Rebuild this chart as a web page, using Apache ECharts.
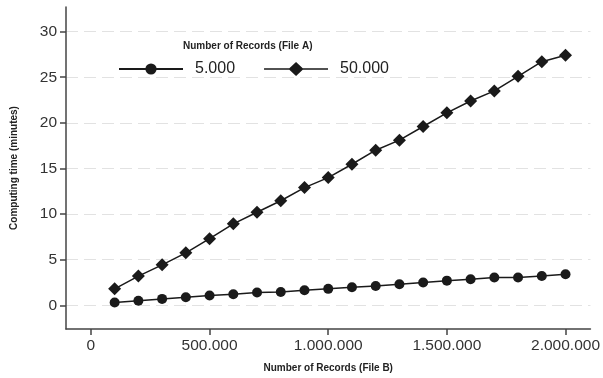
<!DOCTYPE html>
<html>
<head>
<meta charset="utf-8">
<script src="https://cdn.jsdelivr.net/npm/echarts@6/dist/echarts.min.js"></script>
<style>html,body{margin:0;padding:0;background:#fff}#c{width:603px;height:378px}</style>
</head>
<body>
<div id="c"></div>
<script>
var recordsB = [100000,200000,300000,400000,500000,600000,700000,800000,900000,1000000,1100000,1200000,1300000,1400000,1500000,1600000,1700000,1800000,1900000,2000000];
var time5000 = [0.3,0.5,0.7,0.88,1.07,1.2,1.4,1.46,1.65,1.8,1.98,2.12,2.3,2.5,2.7,2.86,3.04,3.04,3.22,3.4];
var time50000 = [1.8,3.2,4.43,5.75,7.3,8.93,10.2,11.46,12.9,14.0,15.46,17.0,18.1,19.6,21.1,22.4,23.5,25.1,26.7,27.4];
var xTicks = [0,500000,1000000,1500000,2000000];
var yTicks = [0,5,10,15,20,25,30];
var seriesNames = ['5.000','50.000'];
var legendTitle = 'Number of Records (File A)';
var xName = 'Number of Records (File B)';
var yName = 'Computing time (minutes)';

function pairs(xs, ys){ return xs.map(function(x,i){ return [x, ys[i]]; }); }
function fmtThousands(v){ return String(Math.round(v)).replace(/\B(?=(\d{3})+(?!\d))/g,'.'); }

var FONT = 'Liberation Sans, Arial, Helvetica, sans-serif';
var DIAMOND_LEGEND_ICON = 'path://M0 6.2H64V7.8H0Z M32 0L39.5 7L32 14L24.5 7Z';
var chart = echarts.init(document.getElementById('c'), null, {renderer:'canvas'});
chart.setOption({
  animation:false,
  backgroundColor:'#fff',
  textStyle:{fontFamily:FONT},
  title:{text:legendTitle, left:183, top:41, padding:0,
    textStyle:{fontSize:10, fontWeight:'bold', color:'#222', fontFamily:FONT}},
  legend:{
    data:[{name:seriesNames[0]}, {name:seriesNames[1], icon:DIAMOND_LEGEND_ICON}],
    left:118, top:61, padding:0,
    itemWidth:64, itemHeight:14, itemGap:29,
    textStyle:{fontSize:16, color:'#222', fontFamily:FONT, padding:[0,0,0,7]}
  },
  grid:{left:66, right:11, top:7, bottom:49, containLabel:false},
  xAxis:{
    type:'value', min:-105000, max:2105000,
    name:xName, nameLocation:'middle', nameGap:34,
    nameTextStyle:{fontSize:10, fontWeight:'bold', color:'#222', fontFamily:FONT},
    axisLine:{show:true, onZero:false, lineStyle:{color:'#444', width:1.5}},
    axisTick:{show:true, length:6, customValues:xTicks, lineStyle:{color:'#444', width:1.5}},
    axisLabel:{customValues:xTicks, margin:9, fontSize:15.5, color:'#333', fontFamily:FONT,
      formatter:function(v){ return fmtThousands(v); }},
    splitLine:{show:false}
  },
  yAxis:{
    type:'value', min:-2.6, max:32.7,
    name:yName, nameLocation:'middle', nameGap:47,
    nameTextStyle:{fontSize:10, fontWeight:'bold', color:'#222', fontFamily:FONT},
    axisLine:{show:true, onZero:false, lineStyle:{color:'#444', width:1.5}},
    axisTick:{show:true, length:6, customValues:yTicks, lineStyle:{color:'#444', width:1.5}},
    axisLabel:{customValues:yTicks, margin:9, fontSize:15.5, color:'#333', fontFamily:FONT},
    splitLine:{show:true, lineStyle:{color:'#e2e2e2', width:1.2, type:[12,6]}}
  },
  series:[
    {name:seriesNames[0], type:'line', data:pairs(recordsB,time5000),
     symbol:'circle', symbolSize:10,
     lineStyle:{color:'#1a1a1a', width:1.5}, itemStyle:{color:'#1a1a1a'}},
    {name:seriesNames[1], type:'line', data:pairs(recordsB,time50000),
     symbol:'diamond', symbolSize:13,
     lineStyle:{color:'#1a1a1a', width:1.5}, itemStyle:{color:'#1a1a1a'}}
  ]
});
</script>
</body>
</html>
